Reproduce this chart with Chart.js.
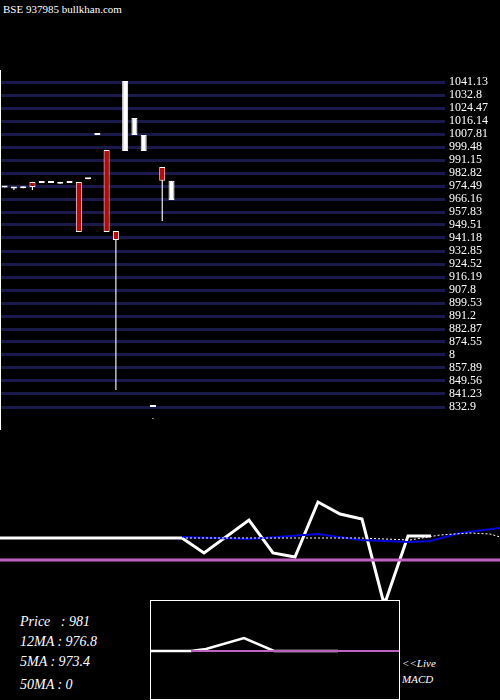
<!DOCTYPE html>
<html>
<head>
<meta charset="utf-8">
<script src="https://cdn.jsdelivr.net/npm/chart.js@4"></script>
<style>
  body { margin:0; background:#000; width:500px; height:700px; overflow:hidden; position:relative; font-family:"DejaVu Serif", serif; }
  canvas { position:absolute; }
  .t { position:absolute; color:#fff; font-family:"Liberation Serif", serif; white-space:nowrap; }
  .i { font-style:italic; }
</style>
</head>
<body>
<div class="t" style="left:3px;top:3px;font-size:11px;">BSE 937985 bullkhan.com</div>
<div style="position:absolute;left:0;top:0;width:500px;height:430px;"><canvas id="main"></canvas></div>
<div style="position:absolute;left:0;top:490px;width:500px;height:110px;"><canvas id="ind"></canvas></div>
<div style="position:absolute;left:150px;top:600px;width:250px;height:100px;border:1px solid #fff;box-sizing:border-box;"><canvas id="macd"></canvas></div>
<div class="t i" style="left:20px;top:614px;font-size:14px;">Price &nbsp;&nbsp;: 981</div>
<div class="t i" style="left:20px;top:634px;font-size:14px;">12MA : 976.8</div>
<div class="t i" style="left:20px;top:654px;font-size:14px;">5MA : 973.4</div>
<div class="t i" style="left:20px;top:677px;font-size:14px;">50MA : 0</div>
<div class="t i" style="left:402px;top:657px;font-size:11px;">&lt;&lt;Live</div>
<div class="t i" style="left:402px;top:673px;font-size:11px;">MACD</div>
<script>
// candles (open, close, low, high)
let opens  = [974.5, 973.9, 974.1, 977.1, 977.1, 977.1, 976.6, 977.1, 977.1, 979.6, 1007.8, 997.6, 945.7, 996.9, 1007.2, 996.9, 825.9, 986.7, 965.5];
let closes = [973.5, 972.9, 973.1, 973.9, 976.4, 976.4, 975.9, 976.4, 945.0, 978.9, 1007.1, 945.0, 939.9, 1041.8, 1018.1, 1007.2, 825.2, 977.8, 977.8];
let lows   = [973.5, 971.9, 973.1, 971.9, 976.4, 976.4, 975.9, 976.4, 945.0, 978.9, 1007.1, 945.0, 843.8, 996.9, 1007.2, 996.9, 825.2, 952.1, 965.5];
let highs  = [974.5, 973.9, 974.1, 977.1, 977.1, 977.1, 976.6, 977.1, 977.1, 979.6, 1007.8, 997.6, 945.7, 1041.8, 1018.1, 1007.2, 825.9, 986.7, 977.8];
let slots = 48;
let tickValues = [1041.13, 1032.8, 1024.47, 1016.14, 1007.81, 999.48, 991.15, 982.82, 974.49, 966.16, 957.83, 949.51, 941.18, 932.85, 924.52, 916.19, 907.86, 899.53, 891.2, 882.87, 874.55, 866.22, 857.89, 849.56, 841.23, 832.9];
let tickLabels = ["1041.13", "1032.8", "1024.47", "1016.14", "1007.81", "999.48", "991.15", "982.82", "974.49", "966.16", "957.83", "949.51", "941.18", "932.85", "924.52", "916.19", "907.8", "899.53", "891.2", "882.87", "874.55", "8", "857.89", "849.56", "841.23", "832.9"];

// lower indicator (x in bar slots 0..500, value relative to zero line)
let indX     = [0, 182, 204, 249, 273, 295, 318, 340, 362, 383, 386, 408, 431];
let indWhite = [22, 22, 7, 40, 7, 3, 58, 46, 41, -40, -40, 24, 24];
let sigX     = [182, 249, 318, 360, 410, 430, 460, 500];
let sigBlue  = [23, 21, 26, 20, 18, 19, 27, 32];
let dotX     = [182, 300, 360, 410, 440, 470, 490, 500];
let dotWhite = [22, 22, 22, 20, 25, 27, 26, 23];
// macd inset
let macdX     = [0, 40, 55, 93, 123, 187];
let macdWhite = [0, 0, 2, 13, 0, 0];
let macdZeroX = [40, 250];

let labels = Array.from({length: slots}, (_, i) => i);
let bodies = opens.map((o, i) => [o, closes[i]]);
let wicks = lows.map((l, i) => [l, highs[i]]);
let bodyFill = opens.map((o, i) => closes[i] < o ? '#cc0000' : '#ffffff');

new Chart(document.getElementById('main'), {
  type: 'bar',
  data: {
    labels: labels,
    datasets: [
      { data: wicks, backgroundColor: '#ffffff', barPercentage: 0.12, categoryPercentage: 1, order: 2, clip: false },
      { data: bodies, backgroundColor: bodyFill, borderColor: '#ffffff', borderWidth: 1, borderSkipped: false,
        barPercentage: 0.65, categoryPercentage: 1, order: 1, clip: false, minBarLength: 2 }
    ]
  },
  options: {
    animation: false, responsive: true, maintainAspectRatio: false,
    grouped: false,
    layout: { padding: { top: 82, bottom: 23, left: 0, right: 0 } },
    plugins: { legend: { display: false }, tooltip: { enabled: false } },
    scales: {
      x: { display: false, offset: true },
      y: {
        position: 'right', min: 832.9, max: 1041.13,
        afterBuildTicks: axis => { axis.ticks = tickValues.map(v => ({ value: v })); },
        afterFit: axis => { axis.width = 55; },
        ticks: { color: '#ffffff', padding: 4, autoSkip: false, font: { family: 'Liberation Serif', size: 12 },
                 callback: (v, i) => tickLabels[i] },
        grid: { color: '#1a1a4a', lineWidth: 3, drawTicks: false },
        border: { display: false }
      }
    }
  },
  plugins: [{
    id: 'leftEdge',
    afterDraw: c => { let g = c.ctx; g.save(); g.fillStyle = '#fff'; g.fillRect(0, 70, 1, 360); g.restore(); }
  }]
});

let pts = (xs, ys) => xs.map((x, i) => ({ x: x, y: ys[i] }));

new Chart(document.getElementById('ind'), {
  type: 'line',
  data: {
    datasets: [
      { data: pts([0, 500], [0, 0]), borderColor: '#c060c0', borderWidth: 3, pointRadius: 0 },
      { data: pts(dotX, dotWhite), borderColor: '#ffffff', borderWidth: 1, borderDash: [2, 2], pointRadius: 0 },
      { data: pts(sigX, sigBlue), borderColor: '#0000dd', borderWidth: 2, pointRadius: 0 },
      { data: pts(indX, indWhite), borderColor: '#ffffff', borderWidth: 3, pointRadius: 0 }
    ]
  },
  options: {
    animation: false, responsive: true, maintainAspectRatio: false,
    layout: { padding: 0 },
    plugins: { legend: { display: false }, tooltip: { enabled: false } },
    scales: { x: { type: 'linear', min: 0, max: 500, display: false }, y: { min: -40, max: 70, display: false } }
  }
});

new Chart(document.getElementById('macd'), {
  type: 'line',
  data: {
    datasets: [
      { data: pts(macdZeroX, [0, 0]), borderColor: '#c060c0', borderWidth: 2, pointRadius: 0 },
      { data: pts(macdX, macdWhite), borderColor: '#ffffff', borderWidth: 2.5, pointRadius: 0 }
    ]
  },
  options: {
    animation: false, responsive: true, maintainAspectRatio: false,
    layout: { padding: 0 },
    plugins: { legend: { display: false }, tooltip: { enabled: false } },
    scales: { x: { type: 'linear', min: 0, max: 248, display: false }, y: { min: -48, max: 50, display: false } }
  }
});
</script>
</body>
</html>
